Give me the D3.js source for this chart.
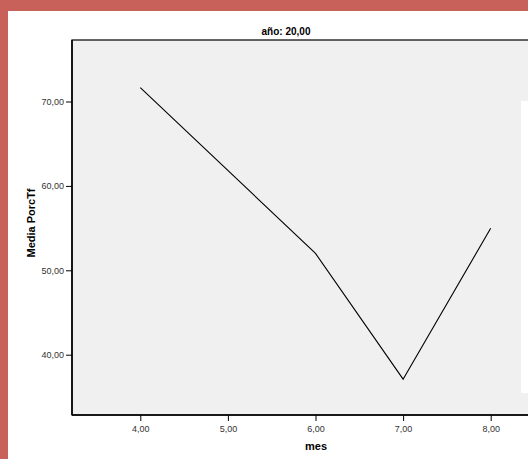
<!DOCTYPE html>
<html><head><meta charset="utf-8">
<script src="https://cdn.jsdelivr.net/npm/d3@7"></script>
<style>body{margin:0;background:#fff;}svg{display:block;}text{font-family:"Liberation Sans",Arial,sans-serif;}</style>
</head><body>
<script>
const meses = [4, 6, 7, 8];
const mediaPorcTf = [71.65, 52.0, 37.1, 54.98];
const xTicks = [4, 5, 6, 7, 8];
const yTicks = [40, 50, 60, 70];
const title = "año: 20,00";
const xTitle = "mes";
const yTitle = "Media PorcTf";

(function () {
const W = 528, H = 459;
const svg = d3.select("body").append("svg").attr("width", W).attr("height", H);
svg.append("rect").attr("width", W).attr("height", H).attr("fill", "#c8615a");
svg.append("rect").attr("x", 8).attr("y", 11).attr("width", W - 8).attr("height", H - 11).attr("fill", "#fff");

const pL = 72, pT = 40, pB = 415, pR = 545;
const x = d3.scaleLinear().domain([4, 8]).range([140.3, 490.7]);
const y = d3.scaleLinear().domain([40, 70]).range([354.7, 101.5]);

svg.append("rect").attr("x", pL).attr("y", pT).attr("width", pR - pL).attr("height", pB - pT)
  .attr("fill", "#f0f0f0").attr("stroke", "#000").attr("stroke-width", 1.2);
svg.append("rect").attr("x", 521).attr("y", 101).attr("width", 20).attr("height", 292).attr("fill", "#fff");

const fmt = d => d3.format(".2f")(d).replace(".", ",");

const line = d3.line().x((d, i) => x(meses[i])).y(d => y(d));
svg.append("path").datum(mediaPorcTf).attr("d", line).attr("fill", "none").attr("stroke", "#000").attr("stroke-width", 1.1);

const gx = svg.append("g").attr("transform", `translate(0,${pB})`)
  .call(d3.axisBottom(x).tickValues(xTicks).tickFormat(fmt).tickSize(6).tickSizeOuter(0).tickPadding(5));
gx.select(".domain").remove();
gx.selectAll("line").attr("stroke", "#000");
gx.selectAll("text").attr("font-size", 9).attr("fill", "#333");

const gy = svg.append("g").attr("transform", `translate(${pL},0)`)
  .call(d3.axisLeft(y).tickValues(yTicks).tickFormat(fmt).tickSize(6).tickSizeOuter(0).tickPadding(2));
gy.select(".domain").remove();
gy.selectAll("line").attr("stroke", "#000");
gy.selectAll("text").attr("font-size", 9).attr("fill", "#333");

svg.append("line").attr("x1", pL).attr("x2", pL).attr("y1", pT).attr("y2", pB).attr("stroke", "#000").attr("stroke-width", 1.5);
svg.append("line").attr("x1", pL).attr("x2", W).attr("y1", pB).attr("y2", pB).attr("stroke", "#000").attr("stroke-width", 1.5);

svg.append("text").attr("x", 286).attr("y", 35).attr("text-anchor", "middle").attr("font-size", 10).attr("font-weight", "bold").text(title);
svg.append("text").attr("x", 316).attr("y", 450).attr("text-anchor", "middle").attr("font-size", 11).attr("font-weight", "bold").text(xTitle);
svg.append("text").attr("transform", "translate(35,223) rotate(-90)").attr("text-anchor", "middle").attr("font-size", 11).attr("font-weight", "bold").text(yTitle);
})();
</script>
</body></html>
